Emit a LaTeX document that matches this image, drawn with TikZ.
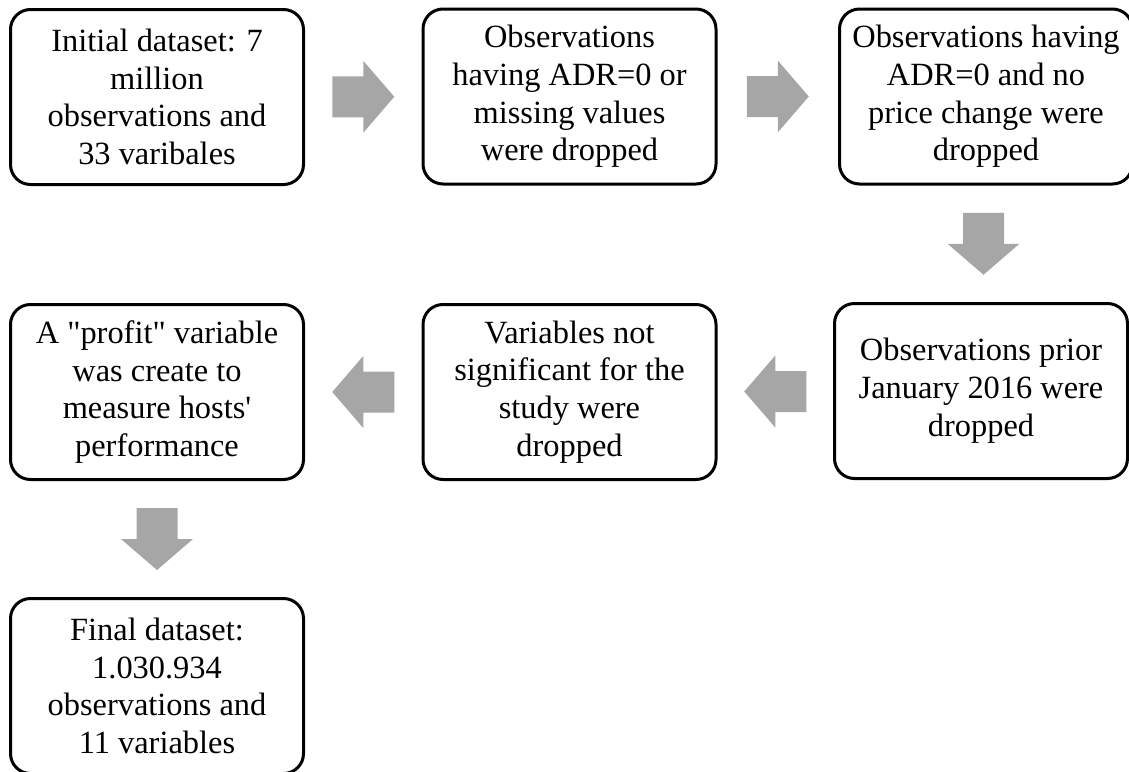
\documentclass[tikz,border=0pt]{standalone}
\usepackage{fontspec}
\setmainfont{Liberation Serif}
\usetikzlibrary{calc}
\definecolor{arrowgray}{RGB}{166,166,166}
\tikzset{
  box/.style={draw,line width=1.5pt,rounded corners=10pt,fill=white,
    minimum width=146.5pt,minimum height=87.5pt,inner sep=0pt,align=center,
    font=\fontsize{16.2}{18.9}\selectfont},
  pics/blockarrow/.style={code={
    \fill[arrowgray] (-31,-20.5) -- (0,-20.5) -- (0,-36) -- (31,0)
      -- (0,36) -- (0,20.5) -- (-31,20.5) -- cycle;}}
}
\begin{document}
\begin{tikzpicture}[x=0.5pt,y=0.5pt]
                \useasboundingbox (0,0) rectangle (1129,-771);
                \node[box] (init) at (157,-97) {Initial dataset: 7\\million\\observations and\\33 varibales};
                \node[box] (zero) at (569.5,-96.5) {Observations\\having ADR=0 or\\missing values\\were dropped};
                \node[box] (noprice) at (986,-96.5) {Observations having\\ADR=0 and no\\price change were\\dropped};
                \node[box] (prior) at (981,-391) {Observations prior\\January 2016 were\\dropped};
                \node[box] (signif) at (569.5,-392) {Variables not\\significant for the\\study were\\dropped};
                \node[box] (profit) at (157,-392) {A \textquotedbl profit\textquotedbl{} variable\\was create to\\measure hosts\textquotesingle\\performance};
                \node[box] (final) at (157,-686) {Final dataset:\\1.030.934\\observations and\\11 variables};
                \pic at ($(init)!0.5!(zero)$) {blockarrow};
                \pic at ($(zero)!0.5!(noprice)$) {blockarrow};
                \pic[rotate=-90] at ($(noprice)!0.5!(prior)$) {blockarrow};
                \pic[rotate=180] at ($(prior)!0.5!(signif)$) {blockarrow};
                \pic[rotate=180] at ($(signif)!0.5!(profit)$) {blockarrow};
                \pic[rotate=-90] at ($(profit)!0.5!(final)$) {blockarrow};
            \end{tikzpicture}
\end{document}
